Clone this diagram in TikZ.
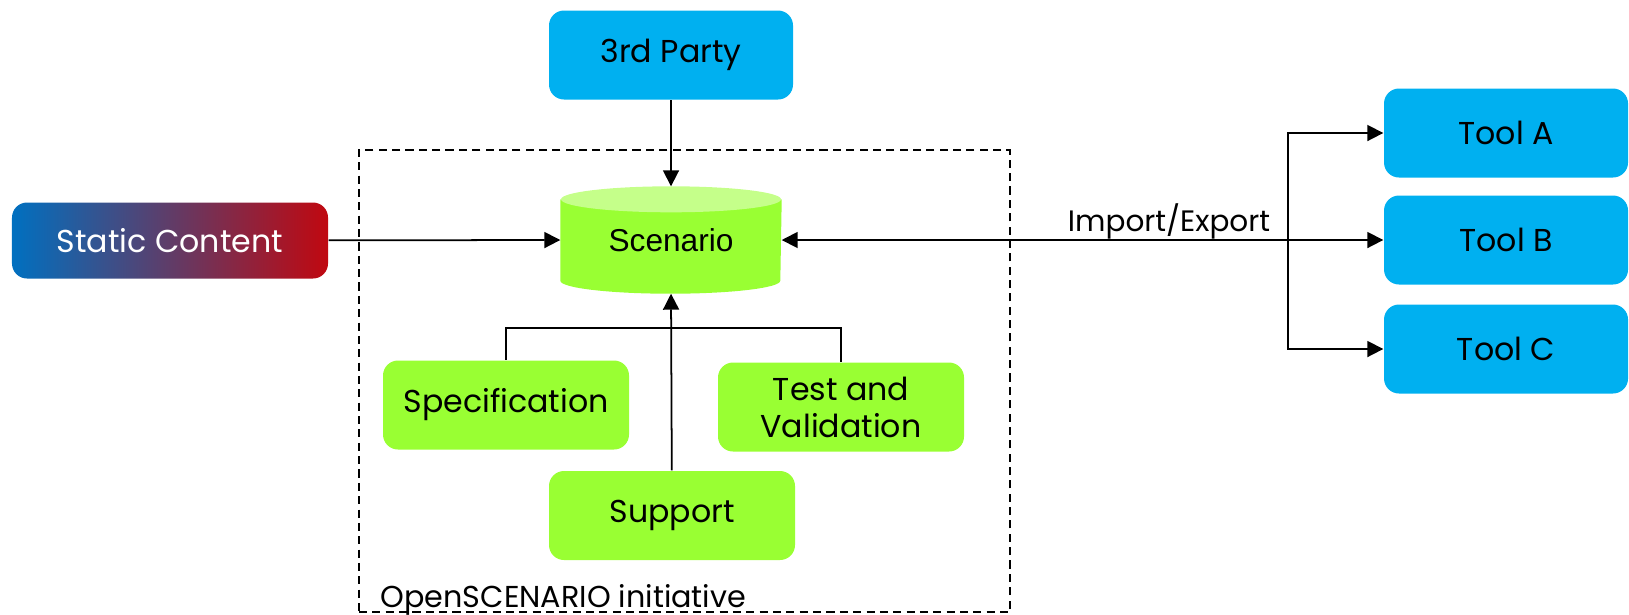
\documentclass[tikz,border=0pt]{standalone}
\usepackage{fontspec}
\setmainfont{Poppins}
\newfontfamily\arialfont{Liberation Sans}
\usetikzlibrary{arrows.meta,backgrounds}
\definecolor{PartyBlue}{RGB}{0,176,240}
\definecolor{ScenGreen}{RGB}{153,255,51}
\definecolor{ScenLight}{RGB}{197,255,138}
\definecolor{StaticBlue}{RGB}{0,112,192}
\definecolor{StaticMid}{RGB}{136,96,160}
\definecolor{StaticRed}{RGB}{192,8,16}

\tikzset{
  txt/.style={font=\fontsize{9}{10.5}\selectfont},
  bluebox/.style={txt, rectangle, rounded corners=0.15cm, fill=PartyBlue, minimum width=2.44cm, minimum height=0.89cm},
  greenbox/.style={txt, rectangle, rounded corners=0.15cm, fill=ScenGreen, minimum width=2.46cm, minimum height=0.89cm, align=center},
  tip/.style={Triangle[length=0.16cm,width=0.16cm]},
  link/.style={-{Triangle[length=0.16cm,width=0.16cm]}, line width=0.5pt},
  frame/.style={draw, line width=0.4pt, dash pattern=on 2.3pt off 1.5pt, minimum width=6.51cm, minimum height=4.62cm},
}

\begin{document}
\begin{tikzpicture}
\useasboundingbox (0,0) rectangle (16.29,-6.14);
% outer frame of the initiative
\node[frame] (init) at (6.845,-3.81) {};
\node[anchor=base west, inner sep=0pt, font=\fontsize{8.6}{10}\selectfont] (initlabel) at (3.80,-6.07) {OpenSCENARIO initiative};
% boxes
\node[bluebox] (party) at (6.71,-0.55) {3rd Party};
\node[txt, rectangle, rounded corners=0.15cm, left color=StaticBlue, middle color=StaticMid, right color=StaticRed,
      text=white, minimum width=3.16cm, minimum height=0.76cm] (static) at (1.70,-2.405) {Static Content};
\node[minimum width=2.2cm, minimum height=1.06cm, inner sep=0pt,
      font=\arialfont\fontsize{9}{10}\selectfont] (scen) at (6.71,-2.40) {\raisebox{-0.08cm}{Scenario}};
\begin{scope}[on background layer]
\fill[ScenGreen] ([yshift=-0.13cm]scen.north west) -- ([yshift=0.13cm]scen.south west)
  arc[start angle=180, end angle=360, x radius=1.1cm, y radius=0.13cm] -- ([yshift=-0.13cm]scen.north east) -- cycle;
\fill[ScenLight] ([yshift=-0.13cm]scen.north) ellipse[x radius=1.1cm, y radius=0.13cm];
\end{scope}
\node[greenbox] (spec) at (5.06,-4.05) {Specification};
\node[greenbox] (test) at (8.41,-4.07) {Test and\\Validation};
\node[greenbox] (support) at (6.72,-5.155) {Support};
\node[bluebox] (toolA) at (15.06,-1.33) {Tool A};
\node[bluebox] (toolB) at (15.06,-2.40) {Tool B};
\node[bluebox] (toolC) at (15.06,-3.49) {Tool C};
% connectors
\draw[link] (party) -- (scen.north);
\draw[link] (static) -- (scen.west);
\coordinate (fork) at (12.88,-2.40);
\draw[link, {Triangle[length=0.16cm,width=0.16cm]}-{Triangle[length=0.16cm,width=0.16cm]}] (scen.east) -- (toolB.west);
\node[anchor=base, inner sep=0pt, font=\fontsize{8.4}{10}\selectfont] (ielabel) at (11.69,-2.31) {Import/Export};
\draw[link] (fork) |- (toolA.west);
\draw[link] (fork) |- (toolC.west);
\coordinate (join) at (6.72,-3.28);
\draw[line width=0.5pt] (spec.north) |- (join) -| (test.north);
\draw[link] (support) -- (scen.south);
\end{tikzpicture}
\end{document}
